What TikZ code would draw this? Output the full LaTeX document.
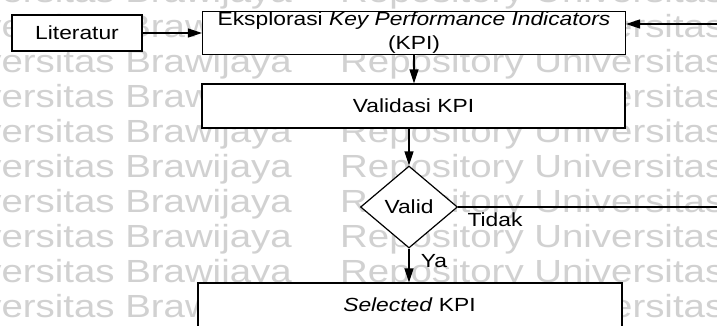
\documentclass[tikz,border=0pt]{standalone}
\usepackage{fontspec}
\setmainfont{Liberation Sans}
\usepackage{graphicx}
\usetikzlibrary{arrows.meta,shapes.geometric}
\newcommand{\sx}[1]{\scalebox{1.2}[1]{#1}}
\newcommand{\wm}[1]{\scalebox{1.2}[1]{#1}}
\begin{document}
\begin{tikzpicture}[x=1pt,y=-1pt,
  box/.style={draw,line width=1.2pt,fill=white,inner sep=0pt,font=\fontsize{19}{24}\selectfont},
  arr/.style={line width=1.2pt,-{Triangle[length=14pt,width=9pt]}},
  plain/.style={line width=1.2pt},
  lbl/.style={inner sep=0pt,font=\fontsize{19}{24}\selectfont},
  wmk/.style={inner sep=0pt,text=black!18,font=\fontsize{32}{32}\selectfont}]
\useasboundingbox[fill=white] (0,0) rectangle (717,325);
\begin{scope}
\clip (0,0) rectangle (717,325);
\foreach \i in {0,...,9} {
  \pgfmathsetmacro\yb{2+35*\i}
  \node[wmk,anchor=base east] (wl\i) at (292,\yb) {\wm{Universitas Brawijaya}};
  \node[wmk,anchor=base west] (wr\i) at (340,\yb) {\wm{Repository Universitas Brawijaya}};
}
\node[box,minimum width=130pt,minimum height=36pt] (lit) at (77,33) {\sx{Literatur}};
\node[box,minimum width=423pt,minimum height=43pt,align=center] (eks) at (414,33)
  {\sx{Eksplorasi \textit{Key Performance Indicators}}\\\sx{(KPI)}};
\node[box,minimum width=423pt,minimum height=44pt] (val) at (413.5,106) {\sx{Validasi KPI}};
\node[box,diamond,minimum width=97pt,minimum height=82pt] (dia) at (409,207) {\sx{Valid}};
\node[box,minimum width=424pt,minimum height=70pt] (sel) at (410,318) {};
\node[lbl] (selt) at (409.5,304.5) {\sx{\textit{Selected} KPI}};
\coordinate (fb) at (717,24);
\coordinate (tr) at (717,207);
\draw[arr] (lit.east) -- (lit.east -| eks.west);
\draw[arr] (fb) -- (fb -| eks.east);
\draw[arr] (eks.south) -- (eks.south |- val.north);
\draw[arr] (val.south -| dia.north) -- (dia.north);
\draw[arr] (dia.south) -- (dia.south |- sel.north);
\draw[plain] (dia.east) -- (tr);
\node[lbl] (tidak) at (495,220) {\sx{Tidak}};
\node[lbl] (ya) at (434,261) {\sx{Ya}};
\end{scope}
\end{tikzpicture}
\end{document}
